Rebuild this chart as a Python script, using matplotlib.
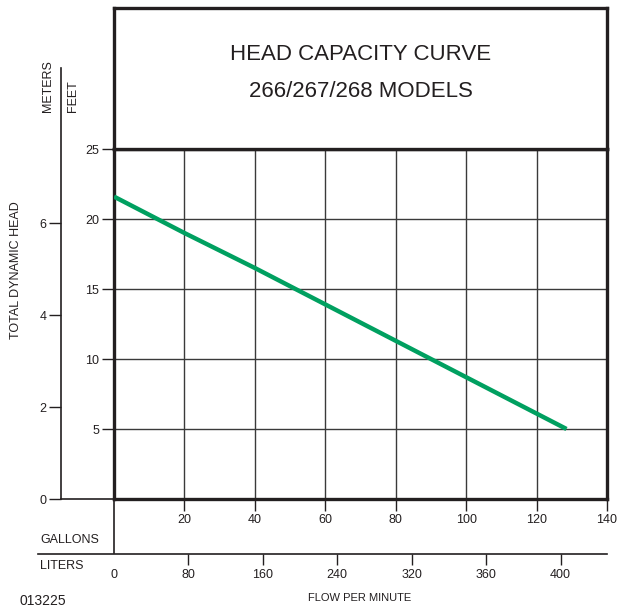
import matplotlib.pyplot as plt

plt.rcParams['font.family'] = ['Liberation Sans', 'DejaVu Sans']

# curve (gallons per minute vs feet of head)
flow_gpm = [0, 20, 40, 60, 80, 100, 128.5]
head_ft = [21.6, 19.0, 16.5, 13.9, 11.3, 8.7, 5.0]

gal_ticks = [20, 40, 60, 80, 100, 120, 140]
ft_ticks = [5, 10, 15, 20, 25]
m_ticks = [0, 2, 4, 6]
# liter tick positions (true liters) and the labels printed on the chart
liter_pos = [0, 80, 160, 240, 320, 400, 480]
liter_labels = ['0', '80', '160', '240', '320', '360', '400']

W, H = 617, 609
def box(x0, y0, x1, y1):
    return [x0 / W, 1 - y1 / H, (x1 - x0) / W, (y1 - y0) / H]

ink = '#231f20'
green = '#00a060'
fs = 9

fig = plt.figure(figsize=(W / 100, H / 100), dpi=100)

# main plot
ax = fig.add_axes(box(114, 149, 607, 499))
ax.plot(flow_gpm, head_ft, color=green, lw=3.2, solid_capstyle='butt', zorder=3)
ax.set_xlim(0, 140)
ax.set_ylim(0, 25)
ax.set_xticks(gal_ticks)
ax.set_yticks(ft_ticks)
ax.tick_params(direction='out', length=8.5, width=1, color=ink, labelsize=fs,
               labelcolor=ink, pad=2)
ax.grid(True, color='#3a3a3a', lw=1.0)
for s in ax.spines.values():
    s.set_linewidth(2.4)
    s.set_color(ink)
# zero line down to the liters scale
ax.axvline(0, ymin=-54 / 350, ymax=0, color=ink, lw=1.2, clip_on=False)

# title box
tax = fig.add_axes(box(114, 8, 607, 149))
tax.set_xticks([])
tax.set_yticks([])
for s in tax.spines.values():
    s.set_linewidth(2.4)
    s.set_color(ink)
tax.text(0.5, 0.67, 'HEAD CAPACITY CURVE', ha='center', va='center', fontsize=16, color=ink,
         transform=tax.transAxes)
tax.text(0.5, 0.41, '266/267/268 MODELS', ha='center', va='center', fontsize=16, color=ink,
         transform=tax.transAxes)

# meters scale
top_ft = 25 * (499 - 68) / (499 - 149)
max_ax = fig.add_axes(box(61, 68, 114, 499))
max_ax.set_ylim(0, top_ft / 3.2808)
max_ax.set_xlim(0, 1)
max_ax.set_yticks(m_ticks)
max_ax.set_xticks([])
max_ax.patch.set_alpha(0)
for k in ['top', 'right']:
    max_ax.spines[k].set_visible(False)
for k in ['left', 'bottom']:
    max_ax.spines[k].set_linewidth(1.2)
    max_ax.spines[k].set_color(ink)
max_ax.tick_params(direction='out', length=8.5, width=1, color=ink, labelsize=fs,
                   labelcolor=ink, pad=2)

# liters scale
lax = fig.add_axes(box(38, 553, 607, 553.5))
left_gal = -(114 - 38) / (607 - 114) * 140
lax.set_xlim(left_gal * 3.78541, 140 * 3.78541)
lax.set_xticks(liter_pos)
lax.set_xticklabels(liter_labels)
lax.set_yticks([])
lax.patch.set_alpha(0)
for k in ['top', 'left', 'right']:
    lax.spines[k].set_visible(False)
lax.spines['bottom'].set_linewidth(1.2)
lax.spines['bottom'].set_color(ink)
lax.tick_params(direction='out', length=8, width=1, color=ink, labelsize=fs,
                labelcolor=ink, pad=3)
lax.xaxis.get_major_ticks()[0].tick1line.set_visible(False)

# labels
fig.text(16 / W, 1 - 270 / H, 'TOTAL DYNAMIC HEAD', rotation=90, ha='center', va='center',
         fontsize=fs, color=ink)
fig.text(48 / W, 1 - 86 / H, 'METERS', rotation=90, ha='center', va='center',
         fontsize=fs, color=ink)
fig.text(73 / W, 1 - 96 / H, 'FEET', rotation=90, ha='center', va='center',
         fontsize=fs, color=ink)
fig.text(40 / W, 1 - 540 / H, 'GALLONS', ha='left', va='center', fontsize=fs, color=ink)
fig.text(40 / W, 1 - 566 / H, 'LITERS', ha='left', va='center', fontsize=fs, color=ink)
fig.text(360 / W, 1 - 598 / H, 'FLOW PER MINUTE', ha='center', va='center', fontsize=fs - 1,
         color=ink)
fig.text(20 / W, 1 - 601 / H, '013225', ha='left', va='center', fontsize=fs + 1, color=ink)

fig.savefig('out.png', dpi=100)
